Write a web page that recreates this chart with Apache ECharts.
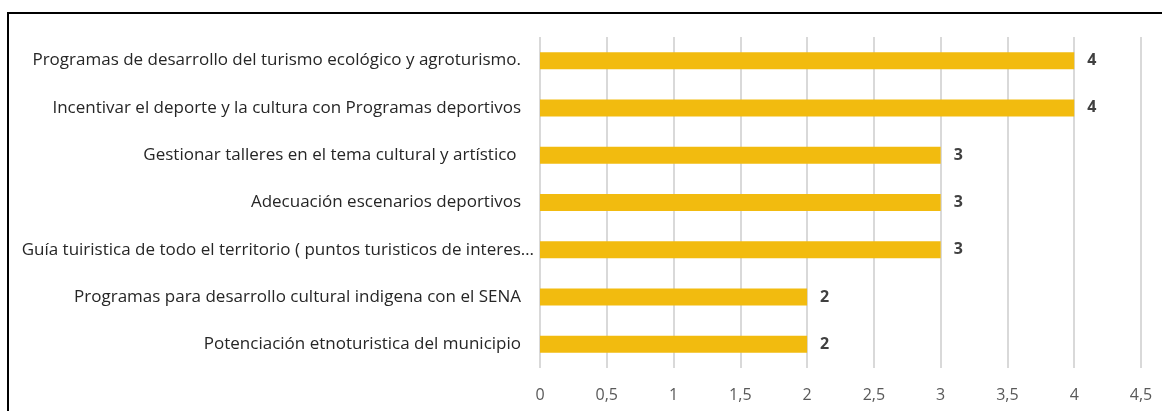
<!DOCTYPE html>
<html>
<head>
<meta charset="utf-8">
<script src="https://cdn.jsdelivr.net/npm/echarts@6/dist/echarts.min.js"></script>
<style>
  html, body { margin: 0; padding: 0; background: #fff; }
  #chart { width: 1162px; height: 411px; }
</style>
</head>
<body>
<div id="chart"></div>
<script>
// Propuestas ordenadas de arriba hacia abajo (eje de categorías invertido)
const categories = [
  'Programas de desarrollo del turismo ecológico y agroturismo.',
  'Incentivar el deporte y la cultura con Programas deportivos',
  'Gestionar talleres en el tema cultural y artístico ',
  'Adecuación escenarios deportivos',
  'Guía tuiristica de todo el territorio ( puntos turisticos de interes…',
  'Programas para desarrollo cultural indigena con el SENA',
  'Potenciación etnoturistica del municipio'
];
const votes = [4, 4, 3, 3, 3, 2, 2];
const xTicks = { min: 0, max: 4.5, interval: 0.5 };

const chart = echarts.init(document.getElementById('chart'));
const FONT = '"Open Sans", "Noto Sans", sans-serif';

// The truncated label sits a little further right, like the other labels' overflow
const yData = categories.map(c => c.endsWith('…')
  ? { value: c, textStyle: { padding: [0, -13, 0, 0] } }
  : c);

chart.setOption({
  animation: false,
  grid: { left: 540, right: 21, top: 37, bottom: 43, containLabel: false },
  xAxis: {
    type: 'value',
    min: xTicks.min, max: xTicks.max, interval: xTicks.interval,
    axisLine: { show: false },
    axisTick: { show: false },
    splitLine: { show: true, lineStyle: { color: '#d9d9d9', width: 2 } },
    axisLabel: {
      color: '#595959', fontFamily: FONT, fontSize: 16, margin: 19,
      formatter: v => String(v).replace('.', ',')
    }
  },
  yAxis: {
    type: 'category',
    inverse: true,
    data: yData,
    axisLine: { show: false },
    axisTick: { show: false },
    axisLabel: { color: '#262626', fontFamily: FONT, fontSize: 17, margin: 19 }
  },
  series: [{
    type: 'bar',
    data: votes,
    barWidth: 17,
    itemStyle: { color: '#F2BB0F' },
    label: {
      show: true, position: 'right', distance: 13,
      color: '#404040', fontFamily: FONT, fontSize: 16, fontWeight: 'bold'
    }
  }],
  graphic: [
    { type: 'line', shape: { x1: 8, y1: 13, x2: 1162, y2: 13 }, style: { stroke: '#000', lineWidth: 2 } },
    { type: 'line', shape: { x1: 8, y1: 12, x2: 8, y2: 411 }, style: { stroke: '#000', lineWidth: 2 } }
  ]
});
</script>
</body>
</html>
